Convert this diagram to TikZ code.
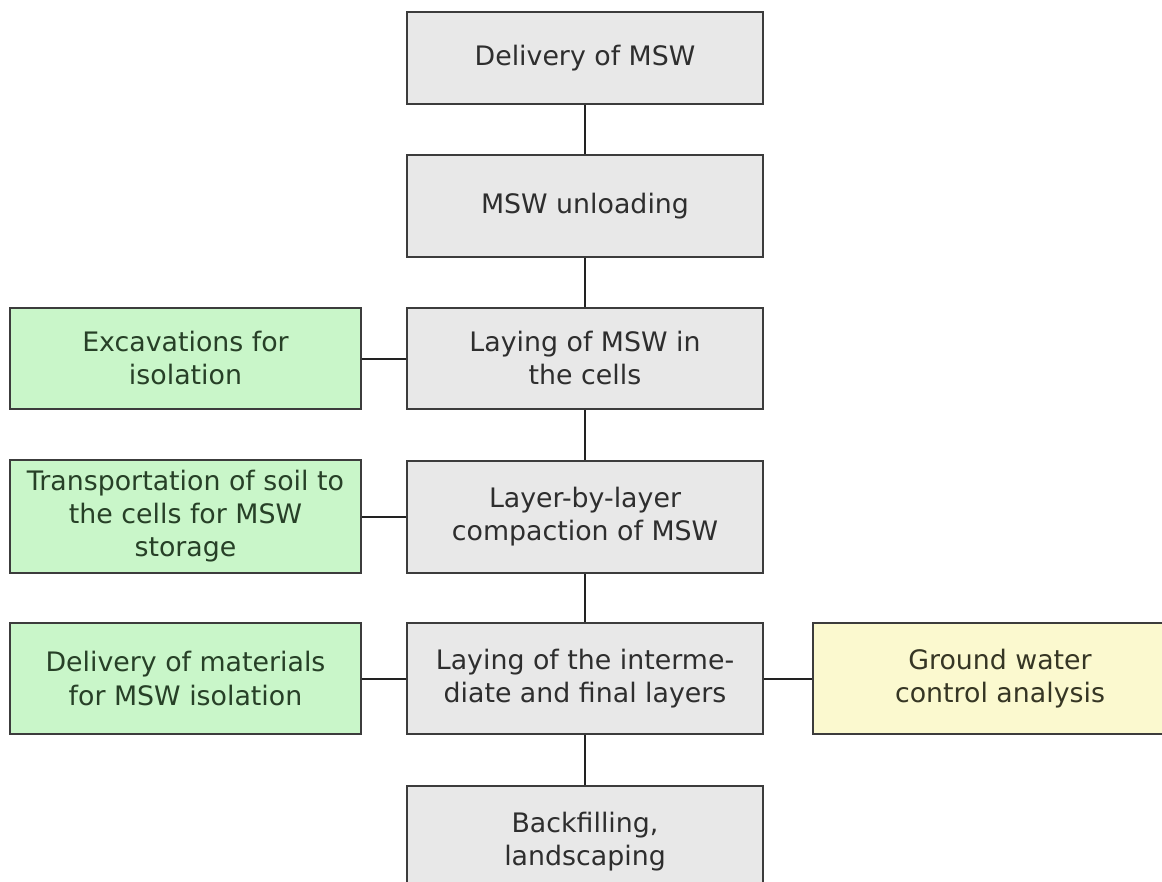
\documentclass[tikz,border=0pt]{standalone}
\usepackage{fontspec}
\setmainfont{DejaVu Sans}
\definecolor{grayfill}{HTML}{E8E8E8}
\definecolor{greenfill}{HTML}{C9F6C9}
\definecolor{yellowfill}{HTML}{FBF9CF}
\definecolor{boxline}{HTML}{3C3C3C}
\definecolor{graytext}{HTML}{2E2E2E}
\definecolor{greentext}{HTML}{274027}
\definecolor{yellowtext}{HTML}{363624}
\definecolor{connline}{HTML}{222222}
\tikzset{
  box/.style={draw=boxline, line width=2.5pt, rectangle, inner sep=0pt, align=center,
    font=\fontsize{26.8}{33}\selectfont},
  graybox/.style={box, fill=grayfill, text=graytext, minimum width=356pt},
  greenbox/.style={box, fill=greenfill, text=greentext, minimum width=351pt},
  yellowbox/.style={box, fill=yellowfill, text=yellowtext, minimum width=374pt},
  conn/.style={draw=connline, line width=2pt}
}
\begin{document}
\begin{tikzpicture}[x=1pt,y=-1pt]
\useasboundingbox (0,0) rectangle (1162,881);
\fill[white] (0,0) rectangle (1162,881);
\clip (0,0) rectangle (1162,881);
% main column
\node[graybox, minimum height=92pt]  (b1) at (585,58)    {Delivery of MSW};
\node[graybox, minimum height=102pt] (b2) at (585,206)   {MSW unloading};
\node[graybox, minimum height=101pt] (b3) at (585,358.5) {Laying of MSW in\\the cells};
\node[graybox, minimum height=112pt] (b4) at (585,517)   {Layer-by-layer\\compaction of MSW};
\node[graybox, minimum height=111pt] (b5) at (585,678.5) {Laying of the interme-\\diate and final layers};
\node[graybox, minimum height=111pt] (b6) at (585,841.5) {Backfilling,\\landscaping};
% left column
\node[greenbox, minimum height=101pt] (g1) at (185.5,358.5) {Excavations for\\isolation};
\node[greenbox, minimum height=113pt] (g2) at (185.5,516.5) {Transportation of soil to\\the cells for MSW\\storage};
\node[greenbox, minimum height=111pt] (g3) at (185.5,678.5) {Delivery of materials\\for MSW isolation};
% right
\node[yellowbox, minimum height=111pt] (y1) at (1000,678.5) {Ground water\\control analysis};
% connectors
\draw[conn] (b1.south) -- (b2.north);
\draw[conn] (b2.south) -- (b3.north);
\draw[conn] (b3.south) -- (b4.north);
\draw[conn] (b4.south) -- (b5.north);
\draw[conn] (b5.south) -- (b6.north);
\draw[conn] (g1.east) -- (b3.west);
\draw[conn] (g2.east) -- (g2.east -| b4.west);
\draw[conn] (g3.east) -- (b5.west);
\draw[conn] (b5.east) -- (y1.west);
\end{tikzpicture}
\end{document}
